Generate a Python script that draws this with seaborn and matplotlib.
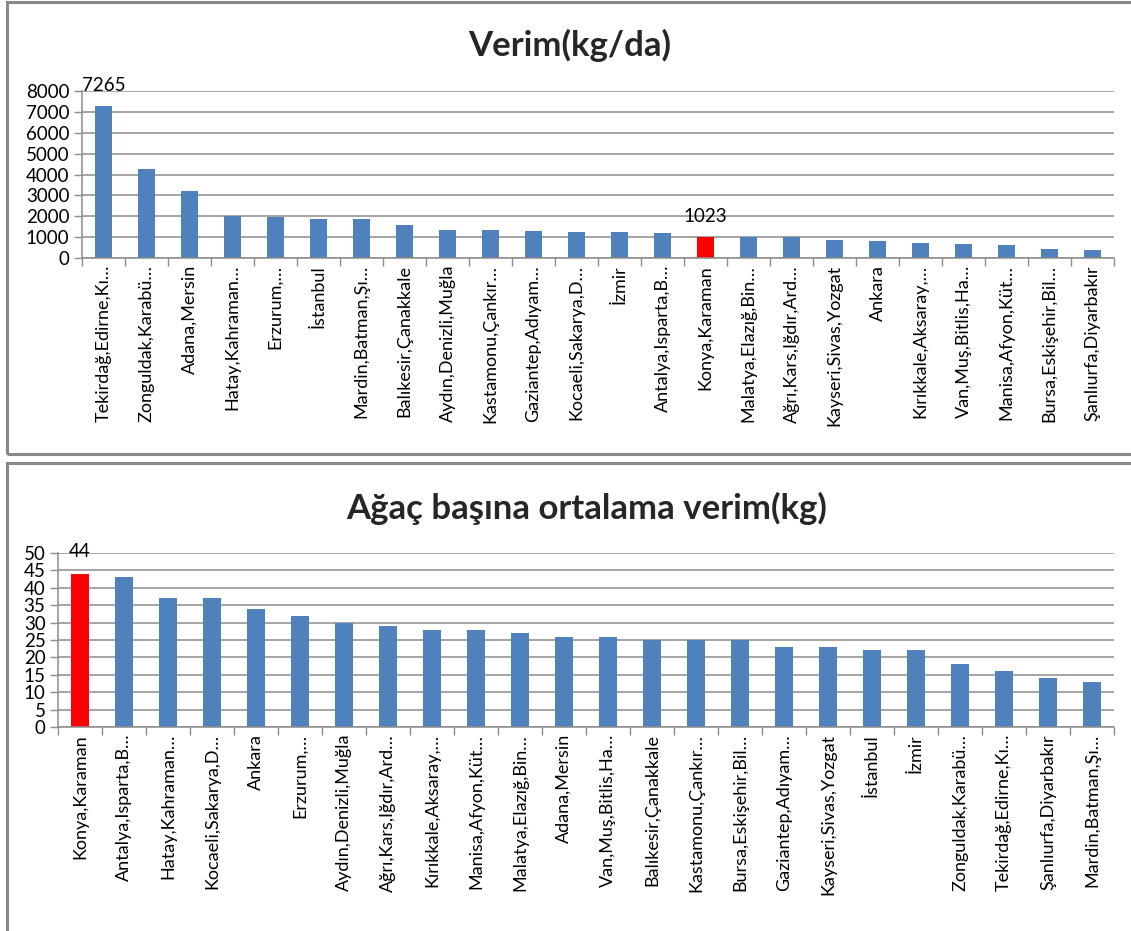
import matplotlib
matplotlib.use("Agg")
import matplotlib.pyplot as plt
from matplotlib.patches import Rectangle
import seaborn as sns
import numpy as np
import pandas as pd

# ---- data ----
top_title = "Verim(kg/da)"
top_labels = ["Tekirdağ,Edirne,Kı…", "Zonguldak,Karabü…", "Adana,Mersin", "Hatay,Kahraman…",
              "Erzurum,…", "İstanbul", "Mardin,Batman,Şı…", "Balıkesir,Çanakkale",
              "Aydın,Denizli,Muğla", "Kastamonu,Çankır…", "Gaziantep,Adıyam…", "Kocaeli,Sakarya,D…",
              "İzmir", "Antalya,Isparta,B…", "Konya,Karaman", "Malatya,Elazığ,Bin…",
              "Ağrı,Kars,Iğdır,Ard…", "Kayseri,Sivas,Yozgat", "Ankara", "Kırıkkale,Aksaray,…",
              "Van,Muş,Bitlis,Ha…", "Manisa,Afyon,Küt…", "Bursa,Eskişehir,Bil…", "Şanlıurfa,Diyarbakır"]
top_values = [7265, 4270, 3200, 2000, 1950, 1890, 1850, 1600, 1365, 1360, 1270, 1265,
              1225, 1175, 1023, 1000, 995, 885, 835, 740, 690, 640, 450, 400]
top_yticks = [0, 1000, 2000, 3000, 4000, 5000, 6000, 7000, 8000]
top_annot = {0: "7265", 14: "1023"}

bot_title = "Ağaç başına ortalama verim(kg)"
bot_labels = ["Konya,Karaman", "Antalya,Isparta,B…", "Hatay,Kahraman…", "Kocaeli,Sakarya,D…",
              "Ankara", "Erzurum,…", "Aydın,Denizli,Muğla", "Ağrı,Kars,Iğdır,Ard…",
              "Kırıkkale,Aksaray,…", "Manisa,Afyon,Küt…", "Malatya,Elazığ,Bin…", "Adana,Mersin",
              "Van,Muş,Bitlis,Ha…", "Balıkesir,Çanakkale", "Kastamonu,Çankır…", "Bursa,Eskişehir,Bil…",
              "Gaziantep,Adıyam…", "Kayseri,Sivas,Yozgat", "İstanbul", "İzmir",
              "Zonguldak,Karabü…", "Tekirdağ,Edirne,Kı…", "Şanlıurfa,Diyarbakır", "Mardin,Batman,Şı…"]
bot_values = [44, 43, 37, 37, 34, 32, 30, 29, 28, 28, 27, 26,
              26, 25, 25, 25, 23, 23, 22, 22, 18, 16, 14, 13]
bot_yticks = [0, 5, 10, 15, 20, 25, 30, 35, 40, 45, 50]
bot_annot = {0: "44"}

highlight = "Konya,Karaman"
BLUE = "#4F81BD"
RED = "#FF0000"
GRID = "#8C8C8C"

sns.set_theme(style="white")
plt.rcParams['font.family'] = ['Lato', 'DejaVu Sans']

W, H = 1131, 931
fig = plt.figure(figsize=(W / 100, H / 100), dpi=100)

# panel frames
for (x0, y0, x1, y1) in [(6.5, 2.5, 1140, 454), (6.5, 462.5, 1140, 940)]:
    fig.patches.append(Rectangle((x0 / W, 1 - y1 / H), (x1 - x0) / W, (y1 - y0) / H,
                                 transform=fig.transFigure, fill=False,
                                 edgecolor="#888888", linewidth=2.2, clip_on=False))


def draw(ax_rect, labels, values, yticks, annot, title, title_x, title_y, annot_off):
    ax = fig.add_axes(ax_rect)
    df = pd.DataFrame({"cat": labels, "val": values})
    pal = {c: (RED if c == highlight else BLUE) for c in labels}
    sns.barplot(data=df, x="cat", y="val", hue="cat", palette=pal, legend=False,
                width=0.4, ax=ax, saturation=1, edgecolor="none")
    ax.set_xlim(-0.5, len(labels) - 0.5)
    ax.set_ylim(yticks[0], yticks[-1])
    ax.set_yticks(yticks)
    ax.set_yticklabels([str(t) for t in yticks], fontsize=13.5, color="#000000")
    ax.yaxis.grid(True, color=GRID, linewidth=1.1)
    ax.set_axisbelow(True)
    ax.set_xlabel("")
    ax.set_ylabel("")
    ax.set_xticks(range(len(labels)))
    ax.set_xticklabels(labels, rotation=90, fontsize=13, color="#000000")
    ax.set_xticks(np.arange(-0.5, len(labels), 1.0), minor=True)
    ax.tick_params(axis="x", which="major", length=0, pad=5)
    ax.tick_params(axis="x", which="minor", length=6, color=GRID, width=1, direction="out", bottom=True)
    ax.tick_params(axis="y", which="major", length=6, color=GRID, width=1, direction="out", left=True, pad=3)
    for s in ["top", "right"]:
        ax.spines[s].set_visible(False)
    for s in ["left", "bottom"]:
        ax.spines[s].set_color(GRID)
        ax.spines[s].set_linewidth(1.1)
    for i, txt in annot.items():
        ax.annotate(txt, (i, values[i]), xytext=(0, annot_off), textcoords="offset pixels",
                    ha="center", va="bottom", fontsize=13.5, color="#000000")
    fig.text(title_x, title_y, title, ha="center", va="center", fontsize=25, fontweight="bold")
    return ax


draw([82 / W, 1 - 258 / H, (1114 - 82) / W, (258 - 91) / H],
     top_labels, top_values, top_yticks, top_annot, top_title, 570 / W, 1 - 45 / H, 12)
draw([58 / W, 1 - 727 / H, (1114 - 58) / W, (727 - 553) / H],
     bot_labels, bot_values, bot_yticks, bot_annot, bot_title, 587 / W, 1 - 508 / H, 14)

fig.savefig("out.png", dpi=100)
